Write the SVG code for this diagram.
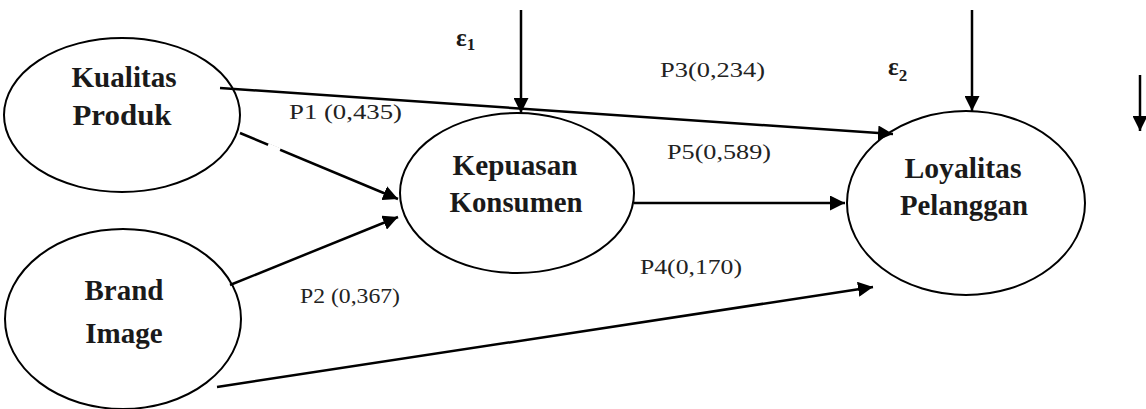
<svg xmlns="http://www.w3.org/2000/svg" width="1146" height="409" viewBox="0 0 1146 409">
<style>
.node{fill:#fff;stroke:#000;stroke-width:2}
.nt{font-family:"Liberation Serif","Times New Roman","DejaVu Serif",serif;font-weight:bold;font-size:29px;fill:#1a1a1a;text-anchor:middle}
.lbl{font-family:"Liberation Serif","Times New Roman","DejaVu Serif",serif;font-size:21px;fill:#222}
.eps{font-family:"Liberation Serif","Times New Roman","DejaVu Serif",serif;font-weight:bold;font-size:25px;fill:#1a1a1a}
.c{stroke:#000;stroke-width:2.5;fill:none;marker-end:url(#ah)}
</style>
<defs>
<marker id="ah" viewBox="0 0 10 10" refX="10" refY="5" markerWidth="6" markerHeight="6" orient="auto" markerUnits="strokeWidth">
<path d="M0,0 L10,5 L0,10 z" fill="#000"/>
</marker>
</defs>
<rect width="1146" height="409" fill="#fff"/>
<g id="n-kualitas">
<ellipse class="node" cx="122" cy="115" rx="118" ry="77"/>
<text class="nt" x="124" y="87" textLength="105" lengthAdjust="spacingAndGlyphs">Kualitas</text>
<text class="nt" x="122" y="125" textLength="99" lengthAdjust="spacingAndGlyphs">Produk</text>
</g>
<g id="n-brand">
<ellipse class="node" cx="123" cy="319" rx="118" ry="90"/>
<text class="nt" x="124" y="300">Brand</text>
<text class="nt" x="124" y="343">Image</text>
</g>
<g id="n-kepuasan">
<ellipse class="node" cx="517" cy="193" rx="117" ry="80"/>
<text class="nt" x="515" y="175" textLength="125" lengthAdjust="spacingAndGlyphs">Kepuasan</text>
<text class="nt" x="516" y="212" textLength="133" lengthAdjust="spacingAndGlyphs">Konsumen</text>
</g>
<g id="n-loyalitas">
<ellipse class="node" cx="966" cy="203" rx="119" ry="92"/>
<text class="nt" x="963" y="178" textLength="117" lengthAdjust="spacingAndGlyphs">Loyalitas</text>
<text class="nt" x="964" y="215" textLength="128" lengthAdjust="spacingAndGlyphs">Pelanggan</text>
</g>
<g id="connectors">
<line class="c" x1="220" y1="88" x2="893" y2="134"/>
<line class="c" x1="240" y1="133" x2="398" y2="199"/>
<line x1="268" y1="145" x2="280" y2="150" stroke="#fff" stroke-width="4"/>
<line class="c" x1="230" y1="285" x2="398" y2="217"/>
<line class="c" x1="217" y1="387" x2="873" y2="287"/>
<line class="c" x1="634" y1="203" x2="845" y2="203"/>
<line class="c" x1="521" y1="10" x2="521" y2="113"/>
<line class="c" x1="972" y1="10" x2="972" y2="111"/>
<line class="c" x1="1140" y1="75" x2="1140" y2="131"/>
</g>
<g id="labels">
<text class="eps" x="456" y="46">ε<tspan font-size="17" dy="4">1</tspan></text>
<text class="eps" x="888" y="75">ε<tspan font-size="17" dy="6">2</tspan></text>
<text class="lbl" x="289" y="119" textLength="113" lengthAdjust="spacingAndGlyphs">P1 (0,435)</text>
<text class="lbl" x="300" y="303" font-size="19" textLength="100" lengthAdjust="spacingAndGlyphs">P2 (0,367)</text>
<text class="lbl" x="660" y="77" textLength="105" lengthAdjust="spacingAndGlyphs">P3(0,234)</text>
<text class="lbl" x="667" y="159" textLength="104" lengthAdjust="spacingAndGlyphs">P5(0,589)</text>
<text class="lbl" x="640" y="274" textLength="102" lengthAdjust="spacingAndGlyphs">P4(0,170)</text>
</g>
</svg>
